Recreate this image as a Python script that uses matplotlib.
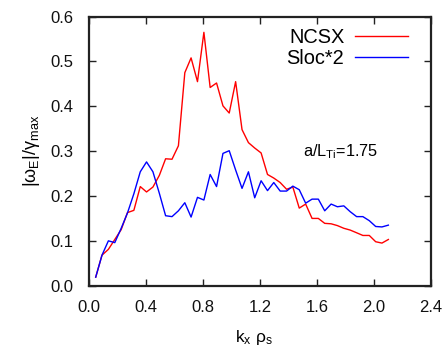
import matplotlib
matplotlib.use("Agg")
import matplotlib.pyplot as plt

plt.rcParams['font.family'] = ['Liberation Sans', 'DejaVu Sans']
plt.rcParams['mathtext.fontset'] = 'custom'
plt.rcParams['mathtext.rm'] = 'Liberation Sans'
plt.rcParams['mathtext.it'] = 'Liberation Sans'

kx = [0.045, 0.089, 0.134, 0.179, 0.224, 0.268, 0.313, 0.358, 0.402, 0.447,
      0.492, 0.536, 0.581, 0.626, 0.671, 0.715, 0.760, 0.805, 0.849, 0.894,
      0.939, 0.983, 1.028, 1.073, 1.118, 1.162, 1.207, 1.252, 1.296, 1.341,
      1.386, 1.430, 1.475, 1.520, 1.565, 1.609, 1.654, 1.699, 1.743, 1.788,
      1.833, 1.878, 1.922, 1.967, 2.012, 2.056, 2.101]

ncsx = [0.019, 0.068, 0.081, 0.103, 0.125, 0.163, 0.168, 0.221, 0.209, 0.220,
        0.246, 0.283, 0.282, 0.312, 0.475, 0.508, 0.455, 0.565, 0.442, 0.452,
        0.401, 0.385, 0.455, 0.348, 0.319, 0.307, 0.296, 0.248, 0.240, 0.230,
        0.215, 0.220, 0.173, 0.182, 0.150, 0.150, 0.139, 0.138, 0.134, 0.128,
        0.124, 0.118, 0.112, 0.112, 0.098, 0.095, 0.103]

sloc2 = [0.019, 0.068, 0.100, 0.096, 0.128, 0.162, 0.205, 0.254, 0.276, 0.254,
         0.206, 0.156, 0.154, 0.167, 0.185, 0.153, 0.197, 0.191, 0.248, 0.221,
         0.295, 0.301, 0.258, 0.217, 0.254, 0.196, 0.234, 0.212, 0.230, 0.211,
         0.211, 0.222, 0.214, 0.184, 0.193, 0.193, 0.167, 0.182, 0.176, 0.178,
         0.165, 0.154, 0.154, 0.145, 0.132, 0.131, 0.135]

xticks = [0.0, 0.4, 0.8, 1.2, 1.6, 2.0, 2.4]
yticks = [0.0, 0.1, 0.2, 0.3, 0.4, 0.5, 0.6]

fig = plt.figure(figsize=(4.47, 3.54), dpi=100)
ax = fig.add_axes([0.1998, 0.193, 0.7642, 0.760])

ax.plot(kx, ncsx, color='#ff0000', lw=1.0, label='NCSX')
ax.plot(kx, sloc2, color='#0000ff', lw=1.0, label='Sloc*2')

ax.set_xlim(0, 2.4)
ax.set_ylim(0, 0.6)
ax.set_xticks(xticks)
ax.set_yticks(yticks)
ax.set_xticklabels([f'{v:.1f}' for v in xticks])
ax.set_yticklabels([f'{v:.1f}' for v in yticks])
ax.tick_params(direction='in', top=True, right=True, length=5, width=1,
               labelsize=12, colors='#222222', labelcolor='#111111')
ax.tick_params(axis='x', pad=10.5)
ax.tick_params(axis='y', pad=11.5)
for s in ax.spines.values():
    s.set_linewidth(1.6)
    s.set_color('#222222')

ax.set_xlabel(r'k$_\mathrm{x}$ ρ$_\mathrm{s}$', fontsize=12.6)
ax.set_ylabel(r'|ω$_\mathrm{E}$|/γ$_\mathrm{max}$', fontsize=13)
ax.xaxis.set_label_coords(0.482, -0.159)
ax.yaxis.set_label_coords(-0.138, 0.5)

ax.text(1.50, 0.299, r'a/L$_\mathrm{Ti}$=1.75', fontsize=11.7, va='center', ha='left')

leg = ax.legend(loc='upper right', frameon=False, fontsize=14.4, markerfirst=False,
                handlelength=2.65, handletextpad=0.55, labelspacing=0.1,
                borderpad=0, borderaxespad=0, bbox_to_anchor=(0.934, 0.957))
for t in leg.get_texts():
    t.set_ha('right')

fig.savefig('out.png', dpi=100)
